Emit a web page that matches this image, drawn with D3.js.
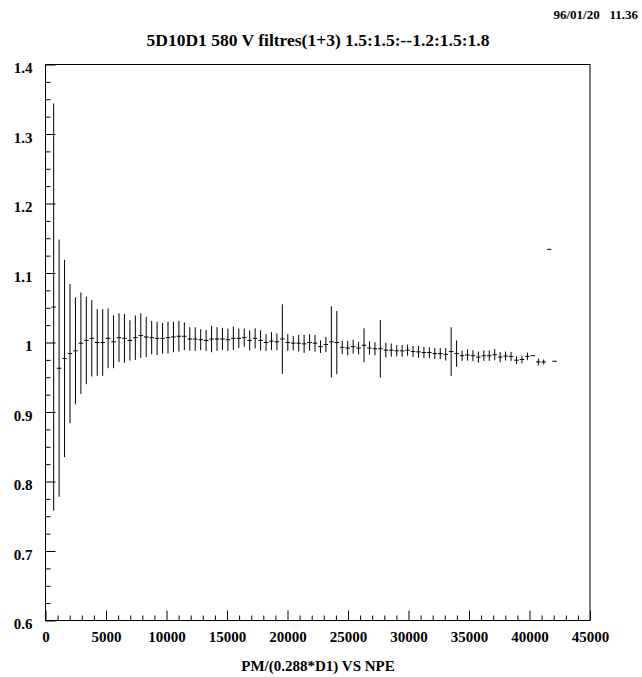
<!DOCTYPE html>
<html>
<head>
<meta charset="utf-8">
<script src="https://cdn.jsdelivr.net/npm/d3@7"></script>
<style>
  html, body { margin: 0; padding: 0; background: #fff; }
  svg text { font-family: "Liberation Serif", "Times New Roman", serif; font-weight: bold; fill: #000; }
</style>
</head>
<body>
<svg id="chart" width="642" height="677"></svg>
<script>
// ---- data ----
const binCenters = [
  675, 1125, 1575, 2025, 2475, 2925, 3375, 3825, 4275, 4725,
  5175, 5625, 6075, 6525, 6975, 7425, 7875, 8325, 8775, 9225,
  9675, 10125, 10575, 11025, 11475, 11925, 12375, 12825, 13275, 13725,
  14175, 14625, 15075, 15525, 15975, 16425, 16875, 17325, 17775, 18225,
  18675, 19125, 19575, 20025, 20475, 20925, 21375, 21825, 22275, 22725,
  23175, 23625, 24075, 24525, 24975, 25425, 25875, 26325, 26775, 27225,
  27675, 28125, 28575, 29025, 29475, 29925, 30375, 30825, 31275, 31725,
  32175, 32625, 33075, 33525, 33975, 34425, 34875, 35325, 35775, 36225,
  36675, 37125, 37575, 38025, 38475, 38925, 39375, 39825, 40275, 40725,
  41175, 41625, 42075
];
const means = [
  1.051, 0.963, 0.977, 0.984, 0.988, 0.999, 1.003, 1.006, 1.000, 1.000,
  1.006, 1.001, 1.007, 1.006, 1.003, 1.007, 1.010, 1.008, 1.007, 1.006,
  1.006, 1.007, 1.008, 1.009, 1.009, 1.005, 1.005, 1.004, 1.003, 1.005,
  1.005, 1.005, 1.004, 1.006, 1.006, 1.007, 1.003, 1.006, 1.003, 1.000,
  1.002, 1.001, 1.005, 1.000, 0.999, 0.999, 0.998, 1.000, 0.999, 0.994,
  0.997, 1.001, 1.000, 0.993, 0.992, 0.994, 0.992, 0.996, 0.992, 0.991,
  0.991, 0.989, 0.989, 0.988, 0.988, 0.989, 0.987, 0.9865, 0.9855, 0.9855,
  0.984, 0.984, 0.983, 0.987, 0.984, 0.981, 0.982, 0.981, 0.979, 0.981,
  0.981, 0.9825, 0.979, 0.9805, 0.980, 0.9745, 0.9755, 0.980, 0.981, 0.972,
  0.972, 1.134, 0.973
];
const errors = [
  0.293, 0.185, 0.142, 0.100, 0.077, 0.073, 0.063, 0.055, 0.048, 0.048,
  0.043, 0.038, 0.035, 0.035, 0.029, 0.032, 0.032, 0.029, 0.024, 0.024,
  0.022, 0.023, 0.022, 0.022, 0.020, 0.017, 0.017, 0.015, 0.015, 0.019,
  0.017, 0.016, 0.016, 0.017, 0.014, 0.013, 0.0145, 0.0145, 0.0145, 0.012,
  0.013, 0.012, 0.050, 0.012, 0.0105, 0.012, 0.013, 0.012, 0.012, 0.009,
  0.011, 0.051, 0.0455, 0.0095, 0.0105, 0.010, 0.009, 0.0245, 0.0095, 0.0095,
  0.0415, 0.0105, 0.0095, 0.008, 0.0085, 0.008, 0.008, 0.0085, 0.008, 0.008,
  0.008, 0.008, 0.009, 0.035, 0.019, 0.0075, 0.008, 0.008, 0.008, 0.0075,
  0.0075, 0.008, 0.0075, 0.0065, 0.0065, 0.0055, 0.0055, 0.0055, 0, 0.005,
  0.0035, 0, 0
];
const xMajorTicks = [0, 5000, 10000, 15000, 20000, 25000, 30000, 35000, 40000, 45000];
const xTickLabels = ["0", "5000", "10000", "15000", "20000", "25000", "30000", "35000", "40000", "45000"];
const yMajorTicks = [0.6, 0.7, 0.8, 0.9, 1.0, 1.1, 1.2, 1.3, 1.4];
const yTickLabels = ["0.6", "0.7", "0.8", "0.9", "1", "1.1", "1.2", "1.3", "1.4"];
const titleText = "5D10D1 580 V filtres(1+3) 1.5:1.5:--1.2:1.5:1.8";
const dateText = "96/01/20\u00a0\u00a0\u00a011.36";
const xAxisTitle = "PM/(0.288*D1) VS NPE";
const binHalfMark = 185;

// ---- layout ----
const svg = d3.select("#chart");
const plotL = 45.5, plotR = 590, plotT = 64.5, plotB = 620.5;
const x = d3.scaleLinear().domain([0, 45000]).range([plotL, plotR]);
const y = d3.scaleLinear().domain([0.6, 1.4]).range([plotB, plotT]);

const xMinor = d3.range(0, 45001, 1000).filter(v => v % 5000 !== 0);
const yMinor = d3.range(0, 33).map(i => 0.6 + i * 0.025).filter(v => Math.abs(v * 10 - Math.round(v * 10)) > 1e-6);

// minor ticks
svg.append("g").attr("transform", `translate(0,${plotB})`)
  .call(d3.axisBottom(x).tickValues(xMinor).tickSizeInner(-5).tickSizeOuter(0).tickFormat(""))
  .call(g => g.select(".domain").remove());
svg.append("g").attr("transform", `translate(${plotL},0)`)
  .call(d3.axisLeft(y).tickValues(yMinor).tickSizeInner(-5).tickSizeOuter(0).tickFormat(""))
  .call(g => g.select(".domain").remove());

// major ticks + labels
const xAx = svg.append("g").attr("transform", `translate(0,${plotB})`)
  .call(d3.axisBottom(x).tickValues(xMajorTicks).tickSizeInner(-10).tickSizeOuter(0).tickPadding(11)
    .tickFormat((d, i) => xTickLabels[i]))
  .call(g => g.select(".domain").remove());

const yAx = svg.append("g").attr("transform", `translate(${plotL},0)`)
  .call(d3.axisLeft(y).tickValues(yMajorTicks).tickSizeInner(-10).tickSizeOuter(0).tickPadding(13)
    .tickFormat((d, i) => yTickLabels[i]))
  .call(g => g.select(".domain").remove());

svg.selectAll("g").attr("font-family", null).attr("font-size", null);
xAx.selectAll("text").style("font-size", "15px");
yAx.selectAll("text").style("font-size", "15px").attr("dy", "0.55em");
svg.selectAll(".tick line").attr("stroke", "#000").attr("stroke-width", 1);

// frame
svg.append("rect")
  .attr("x", plotL).attr("y", plotT)
  .attr("width", plotR - plotL).attr("height", plotB - plotT)
  .attr("fill", "none").attr("stroke", "#000").attr("stroke-width", 1);

// data
const pts = binCenters.map((c, i) => ({ c, m: means[i], e: errors[i] }));
const gData = svg.append("g").attr("stroke", "#000").attr("stroke-width", 1);
gData.selectAll("line.ebar").data(pts.filter(d => d.e > 0)).join("line")
  .attr("class", "ebar")
  .attr("x1", d => x(d.c)).attr("x2", d => x(d.c))
  .attr("y1", d => y(d.m - d.e)).attr("y2", d => y(d.m + d.e));
gData.selectAll("line.mark").data(pts).join("line")
  .attr("class", "mark")
  .attr("x1", d => x(d.c - binHalfMark)).attr("x2", d => x(d.c + binHalfMark))
  .attr("y1", d => y(d.m)).attr("y2", d => y(d.m));

// texts
svg.append("text").attr("x", 318).attr("y", 46).attr("text-anchor", "middle")
  .style("font-size", "17.5px").text(titleText);
svg.append("text").attr("x", 638).attr("y", 19).attr("text-anchor", "end")
  .style("font-size", "13px").text(dateText);
svg.append("text").attr("x", 318).attr("y", 671).attr("text-anchor", "middle")
  .style("font-size", "15px").text(xAxisTitle);
</script>
</body>
</html>
